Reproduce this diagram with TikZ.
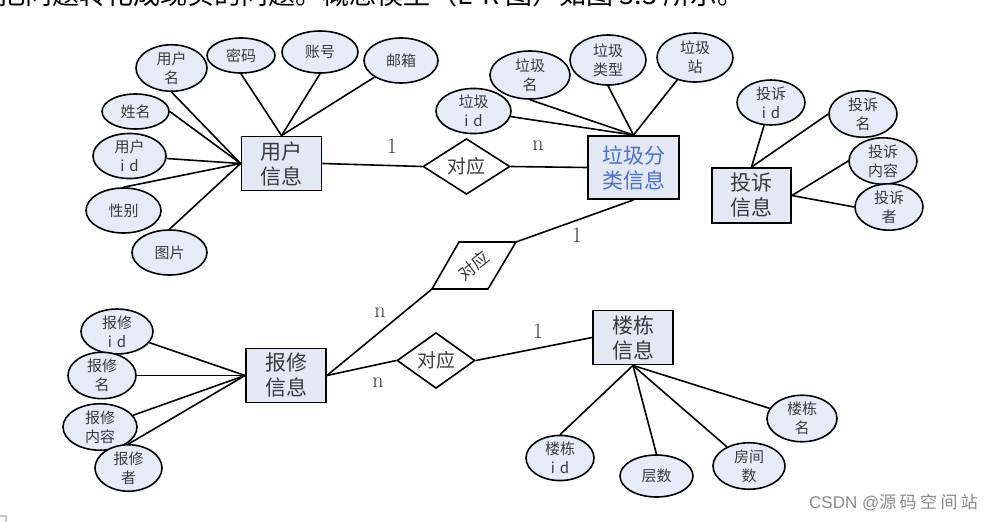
\documentclass[tikz,border=0pt]{standalone}
\usepackage{fontspec}
\newfontfamily\cjk{Noto Sans CJK SC}
\newfontfamily\wmfont{Liberation Sans}
\usetikzlibrary{shapes.geometric}
\definecolor{attrfill}{HTML}{E6ECF7}
\definecolor{entfill}{HTML}{E2E9F5}
\definecolor{txtgray}{HTML}{3A3A3A}
\definecolor{bluetxt}{HTML}{4B6FD0}
\definecolor{wmgray}{HTML}{8A8A8A}
\begin{document}
\begin{tikzpicture}[x=1pt,y=-1pt,
  attr/.style={ellipse, draw=black, line width=1.6pt, fill=attrfill, inner sep=0pt, align=center,
    font=\cjk\fontsize{15}{19}\selectfont, text=txtgray},
  ent/.style={rectangle, draw=black, line width=1.9pt, fill=entfill, inner sep=0pt, align=center,
    font=\cjk\fontsize{21}{25}\selectfont, text=txtgray, minimum width=80, minimum height=54},
  rel/.style={diamond, draw=black, line width=1.6pt, fill=white, inner sep=0pt,
    font=\cjk\fontsize{19}{21}\selectfont, text=txtgray},
  conn/.style={draw=black, line width=1.6pt},
  card/.style={font=\fontsize{22}{22}\selectfont, inner sep=0pt, text=txtgray}
]
\useasboundingbox (0,0) rectangle (996,522);
% cut-off line of text at the top
\begin{scope}
\clip (0,0) rectangle (996,522);
\node[anchor=base west, inner sep=0pt, font=\cjk\fontsize{27}{27}\selectfont, text=black] (toptext) at (-2,5) {把问题转化成现实的问题。概念模型（E-R 图）如图 3.3 所示。};
\end{scope}

% ---------- entities ----------
\node[ent] (user) at (281.5,163.5) {用户\\信息};
\node[ent, minimum width=91, minimum height=63, text=bluetxt] (rub) at (633.5,167.5) {垃圾分\\类信息};
\node[ent, minimum width=79, minimum height=55] (comp) at (751.5,195.5) {投诉\\信息};
\node[ent] (rep) at (286,375.5) {报修\\信息};
\node[ent] (bld) at (633,337.5) {楼栋\\信息};

% ---------- relationships ----------
\node[rel, minimum width=87, minimum height=47] (r1) at (466.5,166.5) {对应};
\node[rel, minimum width=78, minimum height=43] (r3) at (436,360.5) {对应};
\coordinate (pa) at (459,242);
\coordinate (pb) at (516,242);
\coordinate (pc) at (488,289);
\coordinate (pd) at (432,289);
\draw[line width=1.6pt, fill=white] (pa) -- (pb) -- (pc) -- (pd) -- cycle;
\node[inner sep=0pt, rotate=38, font=\cjk\fontsize{17}{17}\selectfont, text=txtgray] (r2) at (474,265.5) {对应};

% ---------- user attributes ----------
\node[attr, minimum width=71, minimum height=38] (uname) at (171.5,68) {用户\\名};
\node[attr, minimum width=68, minimum height=35] (pwd) at (241,55.5) {密码};
\node[attr, minimum width=76, minimum height=42] (acc) at (320,52) {账号};
\node[attr, minimum width=74, minimum height=45] (mail) at (401,60.5) {邮箱};
\node[attr, minimum width=67, minimum height=35] (xm) at (135.5,111.5) {姓名};
\node[attr, minimum width=73, minimum height=42] (uid) at (129.5,156) {用户\\i\,\,d};
\node[attr, minimum width=75, minimum height=45] (sex) at (123.5,210.5) {性别};
\node[attr, minimum width=75, minimum height=45] (pic) at (169.5,252.5) {图片};

\draw[conn] (uname.south) -- (user.west);
\draw[conn] (xm.east) -- (user.west);
\draw[conn] (uid) -- (user.west);
\draw[conn] (sex.north) -- (user.west);
\draw[conn] (pic.north) -- (user.west);
\draw[conn] (pwd.south) -- (user.north);
\draw[conn] (acc.south) -- (user.north);
\draw[conn] (mail) -- (user.north);

% ---------- garbage attributes ----------
\node[attr, minimum width=75, minimum height=44] (gid) at (473.5,111) {垃圾\\i\,\,d};
\node[attr, minimum width=80, minimum height=48] (gname) at (530,75) {垃圾\\名};
\node[attr, minimum width=76, minimum height=50] (gtype) at (608,60) {垃圾\\类型};
\node[attr, minimum width=76, minimum height=49] (gsta) at (695,57.5) {垃圾\\站};
\draw[conn] (gid) -- (rub.north);
\draw[conn] (gname.south) -- (rub.north);
\draw[conn] (gtype.south) -- (rub.north);
\draw[conn] (gsta) -- (rub.north);

% ---------- complaint attributes ----------
\node[attr, minimum width=68, minimum height=39] (cid) at (771,102.5) {投诉\\i\,\,d};
\node[attr, minimum width=68, minimum height=38] (cname) at (863,114) {投诉\\名};
\node[attr, minimum width=68, minimum height=38] (ccont) at (883,161) {投诉\\内容};
\node[attr, minimum width=68, minimum height=38] (cwho) at (889,207) {投诉\\者};
\draw[conn] (cid) -- (comp.north);
\draw[conn] (cname.west) -- (comp.north);
\draw[conn] (ccont.west) -- (comp.east);
\draw[conn] (cwho.west) -- (comp.east);

% ---------- repair attributes ----------
\node[attr, minimum width=72, minimum height=37] (rid) at (117,331.5) {报修\\i\,\,d};
\node[attr, minimum width=68, minimum height=37] (rname) at (102,375.5) {报修\\名};
\node[attr, minimum width=74, minimum height=40] (rcont) at (100,427) {报修\\内容};
\node[attr, minimum width=67, minimum height=40] (rwho) at (128.5,468) {报修\\者};
\draw[conn] (rid) -- (rep.west);
\draw[conn] (rname.east) -- (rep.west);
\draw[conn] (rcont) -- (rep.west);
\draw[conn] (rwho.north) -- (rep.west);

% ---------- building attributes ----------
\node[attr, minimum width=68, minimum height=38] (bid) at (560,458) {楼栋\\i\,\,d};
\node[attr, minimum width=73, minimum height=42] (floor) at (656.5,476) {层数};
\node[attr, minimum width=72, minimum height=38] (room) at (749,466) {房间\\数};
\node[attr, minimum width=70, minimum height=37] (bname) at (802,418.5) {楼栋\\名};
\draw[conn] (bid.north) -- (bld.south);
\draw[conn] (floor.north) -- (bld.south);
\draw[conn] (room) -- (bld.south);
\draw[conn] (bname) -- (bld.south);

% ---------- relationship connectors ----------
\draw[conn] (user.east) -- (r1.west);
\draw[conn] (r1.east) -- (rub.west);
\draw[conn] (rub.south) -- (pb);
\draw[conn] (pd) -- (rep.east);
\draw[conn] (rep.east) -- (r3.west);
\draw[conn] (r3.east) -- (bld.west);

% ---------- cardinalities ----------
\node[card] (c1) at (392,146) {1};
\node[card] (c2) at (538,146) {n};
\node[card] (c3) at (577,235) {1};
\node[card] (c4) at (380,313) {n};
\node[card] (c5) at (538,331) {1};
\node[card] (c6) at (378,383) {n};

% ---------- watermark ----------
\node[anchor=west, inner sep=0pt, text=wmgray, font=\wmfont\fontsize{17}{17}\selectfont] (wm) at (809,502)
  {CSDN @{\cjk\addfontfeature{LetterSpace=20}源码空间站}};

% ---------- corner mark ----------
\draw[draw=black!22, line width=1.3pt] (0,516) -- (6,516) -- (6,522);
\end{tikzpicture}
\end{document}
